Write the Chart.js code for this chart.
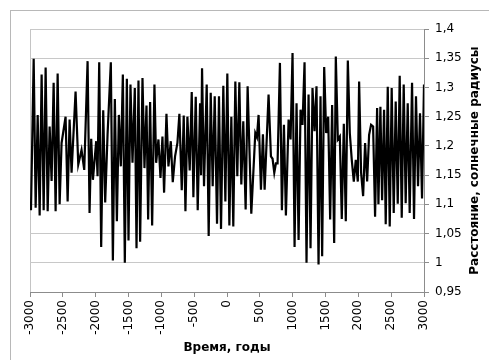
<!DOCTYPE html>
<html>
<head>
<meta charset="utf-8">
<script src="https://cdn.jsdelivr.net/npm/chart.js@4.4.0/dist/chart.umd.min.js"></script>
<style>
html, body { margin: 0; padding: 0; background: #fff; overflow: hidden; }
#wrap { position: relative; width: 489px; height: 360px; overflow: hidden; }
#frame { position: absolute; left: 10px; top: 10px; width: 600px; height: 500px; border: 1px solid #b8b8b8; }
canvas { position: absolute; left: 0; top: 0; }
</style>
</head>
<body>
<div id="wrap"><div id="frame"></div><canvas id="chart" width="489" height="360"></canvas></div>
<script>
// Время, годы
const years = [
  -2985, -2944, -2914, -2883, -2853, -2823, -2792, -2762, -2731, -2701,
  -2671, -2640, -2610, -2579, -2549, -2519, -2458, -2427, -2397, -2367,
  -2306, -2265, -2215, -2174, -2123, -2093, -2068, -2042, -1992, -1971,
  -1946, -1916, -1885, -1855, -1819, -1769, -1738, -1708, -1677, -1647,
  -1617, -1586, -1556, -1525, -1500, -1470, -1439, -1404, -1378, -1348,
  -1323, -1287, -1257, -1226, -1201, -1171, -1140, -1105, -1079, -1044,
  -1013, -983, -958, -922, -892, -856, -826, -791, -755, -725,
  -689, -659, -633, -603, -568, -537, -512, -476, -446, -410,
  -395, -380, -350, -309, -279, -248, -218, -187, -152, -122,
  -91, -56, -25, 5, 36, 66, 96, 127, 157, 188,
  218, 248, 284, 314, 370, 431, 456, 481, 517, 547,
  573, 633, 669, 694, 720, 745, 770, 806, 836, 867,
  897, 938, 968, 998, 1029, 1059, 1090, 1120, 1150, 1181,
  1211, 1242, 1272, 1302, 1333, 1363, 1394, 1424, 1449, 1480,
  1510, 1541, 1571, 1601, 1632, 1657, 1688, 1718, 1748, 1779,
  1809, 1840, 1870, 1900, 1931, 1961, 1992, 2012, 2042, 2073,
  2103, 2134, 2164, 2194, 2225, 2255, 2286, 2306, 2336, 2362,
  2392, 2417, 2448, 2478, 2508, 2539, 2569, 2600, 2630, 2661,
  2691, 2721, 2752, 2782, 2818, 2848, 2878, 2909, 2939, 2970,
  3000
];

// Расстояние, солнечные радиусы
const distance = [
  1.09, 1.349, 1.094, 1.253, 1.081, 1.322, 1.09, 1.334, 1.088, 1.233,
  1.14, 1.308, 1.088, 1.324, 1.10, 1.205, 1.25, 1.105, 1.245, 1.154,
  1.293, 1.168, 1.193, 1.159, 1.345, 1.085, 1.212, 1.142, 1.208, 1.148,
  1.343, 1.027, 1.261, 1.103, 1.219, 1.343, 1.004, 1.28, 1.071, 1.253,
  1.165, 1.322, 1.0, 1.315, 1.038, 1.305, 1.171, 1.299, 1.025, 1.312,
  1.036, 1.316, 1.162, 1.269, 1.074, 1.275, 1.064, 1.305, 1.171, 1.211,
  1.145, 1.216, 1.12, 1.255, 1.165, 1.208, 1.138, 1.182, 1.205, 1.255,
  1.124, 1.252, 1.088, 1.25, 1.158, 1.292, 1.112, 1.284, 1.09, 1.273,
  1.15, 1.333, 1.131, 1.305, 1.046, 1.291, 1.131, 1.285, 1.067, 1.285,
  1.058, 1.303, 1.105, 1.324, 1.064, 1.25, 1.062, 1.31, 1.148, 1.309,
  1.134, 1.242, 1.091, 1.302, 1.084, 1.222, 1.215, 1.253, 1.125, 1.22,
  1.125, 1.288, 1.182, 1.178, 1.154, 1.17, 1.17, 1.342, 1.09, 1.236,
  1.081, 1.245, 1.211, 1.359, 1.027, 1.273, 1.039, 1.262, 1.236, 1.343,
  1.0, 1.288, 1.025, 1.299, 1.225, 1.302, 0.997, 1.285, 1.011, 1.335,
  1.222, 1.25, 1.074, 1.27, 1.034, 1.353, 1.211, 1.216, 1.075, 1.238,
  1.071, 1.346, 1.222, 1.176, 1.139, 1.176, 1.139, 1.31, 1.154, 1.114,
  1.205, 1.139, 1.219, 1.236, 1.233, 1.079, 1.265, 1.10, 1.267, 1.107,
  1.262, 1.066, 1.301, 1.062, 1.299, 1.085, 1.276, 1.101, 1.32, 1.077,
  1.305, 1.102, 1.273, 1.085, 1.308, 1.075, 1.285, 1.131, 1.256, 1.11,
  1.305
];

const xTitle = 'Время, годы';
const yTitle = 'Расстояние, солнечные радиусы';

const tickFont = { family: 'DejaVu Sans', size: 12 };
const titleFont = { family: 'DejaVu Sans', size: 12, weight: 'bold' };

// заголовок правой оси, читается снизу вверх
const rightTitle = {
  id: 'rightTitle',
  afterDraw(chart) {
    const c = chart.ctx;
    const area = chart.chartArea;
    c.save();
    c.translate(475, (area.top + area.bottom) / 2);
    c.rotate(-Math.PI / 2);
    c.font = 'bold 12px "DejaVu Sans"';
    c.fillStyle = '#000';
    c.textAlign = 'center';
    c.textBaseline = 'middle';
    c.fillText(yTitle, 0, 0);
    c.restore();
  }
};

new Chart(document.getElementById('chart'), {
  type: 'line',
  data: {
    datasets: [{
      data: years.map((x, i) => ({ x: x, y: distance[i] })),
      borderColor: '#000',
      borderWidth: 2.2,
      pointRadius: 0,
      tension: 0,
      fill: false,
    }],
  },
  options: {
    responsive: false,
    animation: false,
    layout: { padding: { left: 30, top: 29, right: 0, bottom: 0 } },
    plugins: {
      legend: { display: false },
      tooltip: { enabled: false },
    },
    scales: {
      x: {
        type: 'linear',
        min: -3000,
        max: 3000,
        ticks: {
          stepSize: 500,
          autoSkip: false,
          minRotation: 90,
          maxRotation: 90,
          padding: 3,
          font: tickFont,
          color: '#000',
          callback: (v) => String(v),
        },
        grid: {
          color: (c) => (c.index === 0 ? '#c4c4c4' : 'rgba(0,0,0,0)'),
          tickColor: '#8c8c8c',
          tickLength: 5,
        },
        border: { color: '#8c8c8c' },
        title: {
          display: true,
          text: xTitle,
          font: titleFont,
          color: '#000',
          padding: { top: 0, bottom: 5 },
        },
        afterFit: (s) => { s.height = 68; },
      },
      y: {
        position: 'right',
        min: 0.95,
        max: 1.4,
        ticks: {
          stepSize: 0.05,
          padding: 6,
          font: tickFont,
          color: '#000',
          callback: (v) => String(Math.round(v * 100) / 100).replace('.', ','),
        },
        grid: {
          color: '#c8c8c8',
          tickColor: '#8c8c8c',
          tickLength: 5,
        },
        border: { color: '#8c8c8c' },
        afterFit: (s) => { s.width = 65; },
      },
    },
  },
  plugins: [rightTitle],
});
</script>
</body>
</html>
